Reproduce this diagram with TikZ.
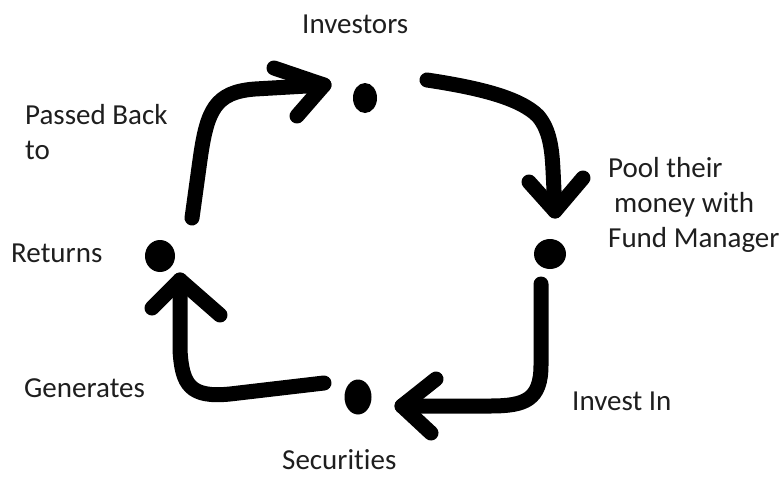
\documentclass[tikz,border=0pt]{standalone}
\usepackage{fontspec}
\setmainfont[Ligatures=NoCommon]{Carlito}
\usetikzlibrary{shapes.geometric}
\definecolor{ink}{RGB}{0,0,0}
\definecolor{txt}{RGB}{30,30,30}
\begin{document}
\begin{tikzpicture}[x=1pt,y=-1pt,
  dotnode/.style={ellipse,fill=ink,draw=none,inner sep=0pt},
  lbl/.style={anchor=base west,inner sep=0pt,text=txt,font=\fontsize{29}{35}\selectfont},
  stroke/.style={draw=ink,line width=15pt,line cap=round,line join=round}]
\useasboundingbox (0,0) rectangle (783,479);
% dots
\node[dotnode,minimum width=24pt,minimum height=30pt] (inv) at (365,98) {};
\node[dotnode,minimum width=32pt,minimum height=30pt] (fm) at (550,254) {};
\node[dotnode,minimum width=30pt,minimum height=32pt] (ret) at (160,256) {};
\node[dotnode,minimum width=27pt,minimum height=35pt] (sec) at (358,397) {};
% labels
\node[lbl] (linv) at (302,33) {Investors};
\node[lbl] (lpb1) at (25,124) {Passed Back};
\node[lbl] (lpb2) at (25,159) {to};
\node[lbl] (lp1) at (608,177) {Pool their};
\node[lbl] (lp2) at (614,212) {money with};
\node[lbl] (lp3) at (608,247) {Fund Manager};
\node[lbl] (lret) at (11,262) {Returns};
\node[lbl] (lgen) at (24,397) {Generates};
\node[lbl] (linvin) at (572,410) {Invest In};
\node[lbl] (lsec) at (282,469) {Securities};
% connector end points
\coordinate (a1s) at (192,218);
\coordinate (a1t) at (324,85);
\coordinate (a2s) at (427,80);
\coordinate (a2t) at (555,211);
\coordinate (a3s) at (541,284);
\coordinate (a3t) at (402,406);
\coordinate (a4s) at (324,383);
\coordinate (a4t) at (180,280);
% Returns -> Investors
\draw[stroke] (a1s) -- (200,160) .. controls (207,110) and (215,92) .. (255,89) -- (a1t);
\draw[stroke] (274,68) -- (a1t) -- (297,116);
% Investors -> Fund Manager
\draw[stroke] (a2s) .. controls (480,88) and (520,98) .. (538,116) .. controls (550,130) and (552,150) .. (553,170) -- (a2t);
\draw[stroke] (529,182) -- (a2t) -- (583,178);
% Fund Manager -> Securities
\draw[stroke] (a3s) -- (541,365) .. controls (541,400) and (525,406) .. (490,406) -- (a3t);
\draw[stroke] (436,379) -- (a3t) -- (431,433);
% Securities -> Returns
\draw[stroke] (a4s) -- (230,394) .. controls (190,398) and (182,385) .. (180,350) -- (a4t);
\draw[stroke] (152,308) -- (a4t) -- (220,315);
\end{tikzpicture}
\end{document}
